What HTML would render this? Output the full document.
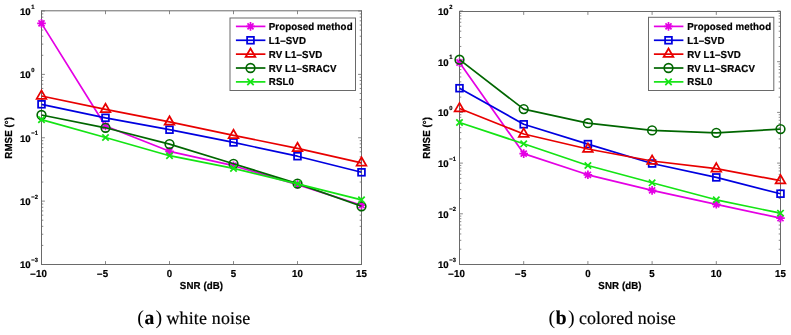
<!DOCTYPE html>
<html><head><meta charset="utf-8"><style>
html,body{margin:0;padding:0;background:#fff;}
body{width:791px;height:335px;overflow:hidden;}
svg{display:block;text-rendering:geometricPrecision;will-change:transform;}
.s{font-family:"Liberation Sans",sans-serif;font-weight:bold;font-size:9.7px;letter-spacing:0.1px;fill:#000;stroke:#000;stroke-width:0.22px;}
.sup{font-family:"Liberation Sans",sans-serif;font-weight:bold;font-size:5.8px;fill:#000;stroke:#000;stroke-width:0.2px;}
.ten{font-size:9.6px;letter-spacing:0;}
.cap{font-family:"Liberation Serif",serif;font-size:17.9px;fill:#000;stroke:#000;stroke-width:0.2px;}
</style></head><body>
<svg width="791" height="335" viewBox="0 0 791 335">
<path d="M41.50 264.50V261.10M41.50 10.80V14.20M105.50 264.50V261.10M105.50 10.80V14.20M169.50 264.50V261.10M169.50 10.80V14.20M233.50 264.50V261.10M233.50 10.80V14.20M297.50 264.50V261.10M297.50 10.80V14.20M361.50 264.50V261.10M361.50 10.80V14.20M41.50 264.50H44.90M361.50 264.50H358.10M41.50 245.42H43.30M361.50 245.42H359.70M41.50 234.26H43.30M361.50 234.26H359.70M41.50 226.34H43.30M361.50 226.34H359.70M41.50 220.20H43.30M361.50 220.20H359.70M41.50 215.18H43.30M361.50 215.18H359.70M41.50 210.94H43.30M361.50 210.94H359.70M41.50 207.27H43.30M361.50 207.27H359.70M41.50 204.02H43.30M361.50 204.02H359.70M41.50 201.12H44.90M361.50 201.12H358.10M41.50 182.05H43.30M361.50 182.05H359.70M41.50 170.89H43.30M361.50 170.89H359.70M41.50 162.97H43.30M361.50 162.97H359.70M41.50 156.83H43.30M361.50 156.83H359.70M41.50 151.81H43.30M361.50 151.81H359.70M41.50 147.57H43.30M361.50 147.57H359.70M41.50 143.89H43.30M361.50 143.89H359.70M41.50 140.65H43.30M361.50 140.65H359.70M41.50 137.75H44.90M361.50 137.75H358.10M41.50 118.67H43.30M361.50 118.67H359.70M41.50 107.51H43.30M361.50 107.51H359.70M41.50 99.59H43.30M361.50 99.59H359.70M41.50 93.45H43.30M361.50 93.45H359.70M41.50 88.43H43.30M361.50 88.43H359.70M41.50 84.19H43.30M361.50 84.19H359.70M41.50 80.52H43.30M361.50 80.52H359.70M41.50 77.27H43.30M361.50 77.27H359.70M41.50 74.38H44.90M361.50 74.38H358.10M41.50 55.30H43.30M361.50 55.30H359.70M41.50 44.14H43.30M361.50 44.14H359.70M41.50 36.22H43.30M361.50 36.22H359.70M41.50 30.08H43.30M361.50 30.08H359.70M41.50 25.06H43.30M361.50 25.06H359.70M41.50 20.82H43.30M361.50 20.82H359.70M41.50 17.14H43.30M361.50 17.14H359.70M41.50 13.90H43.30M361.50 13.90H359.70M41.50 11.00H44.90M361.50 11.00H358.10" stroke="#6a6a6a" stroke-width="0.8" fill="none"/>
<path d="M41.50 10.80V264.50M361.50 10.80V264.50M41.00 10.80H362.00M41.00 264.50H362.00" stroke="#6a6a6a" stroke-width="1" fill="none"/>
<text transform="translate(41.50,276.60) scale(1,1.05)" class="s" text-anchor="middle">10</text>
<text transform="translate(35.71,276.60) scale(1,1.05)" class="s" text-anchor="end">&#8211;</text>
<text transform="translate(105.50,276.60) scale(1,1.05)" class="s" text-anchor="middle">5</text>
<text transform="translate(102.40,276.60) scale(1,1.05)" class="s" text-anchor="end">&#8211;</text>
<text transform="translate(169.50,276.60) scale(1,1.05)" class="s" text-anchor="middle">0</text>
<text transform="translate(233.50,276.60) scale(1,1.05)" class="s" text-anchor="middle">5</text>
<text transform="translate(297.50,276.60) scale(1,1.05)" class="s" text-anchor="middle">10</text>
<text transform="translate(361.50,276.60) scale(1,1.05)" class="s" text-anchor="middle">15</text>
<text x="30.60" y="268.40" class="s ten" text-anchor="end">10</text>
<text transform="translate(31.30,262.00) scale(1,1.05)" class="sup">&#8722;3</text>
<text x="30.60" y="205.03" class="s ten" text-anchor="end">10</text>
<text transform="translate(31.30,198.62) scale(1,1.05)" class="sup">&#8722;2</text>
<text x="30.60" y="141.65" class="s ten" text-anchor="end">10</text>
<text transform="translate(31.30,135.25) scale(1,1.05)" class="sup">&#8722;1</text>
<text x="30.60" y="78.28" class="s ten" text-anchor="end">10</text>
<text transform="translate(31.30,71.88) scale(1,1.05)" class="sup">0</text>
<text x="30.60" y="14.90" class="s ten" text-anchor="end">10</text>
<text transform="translate(31.30,8.50) scale(1,1.05)" class="sup">1</text>
<text transform="translate(201.50,288.80) scale(1,1.05)" class="s" text-anchor="middle">SNR (dB)</text>
<text transform="translate(12.00,137.75) rotate(-90) scale(1,1.05)" text-anchor="middle" class="s">RMSE (°)</text>
<polyline points="41.50,23.40 105.50,126.00 169.50,151.30 233.50,165.70 297.50,184.60 361.50,205.20" stroke="#e400e4" stroke-width="1.7" fill="none" stroke-linejoin="round"/>
<path d="M37.20 23.40L45.80 23.40M38.46 20.36L44.54 26.44M41.50 19.10L41.50 27.70M44.54 20.36L38.46 26.44" stroke="#e400e4" stroke-width="1.7" fill="none"/>
<path d="M101.20 126.00L109.80 126.00M102.46 122.96L108.54 129.04M105.50 121.70L105.50 130.30M108.54 122.96L102.46 129.04" stroke="#e400e4" stroke-width="1.7" fill="none"/>
<path d="M165.20 151.30L173.80 151.30M166.46 148.26L172.54 154.34M169.50 147.00L169.50 155.60M172.54 148.26L166.46 154.34" stroke="#e400e4" stroke-width="1.7" fill="none"/>
<path d="M229.20 165.70L237.80 165.70M230.46 162.66L236.54 168.74M233.50 161.40L233.50 170.00M236.54 162.66L230.46 168.74" stroke="#e400e4" stroke-width="1.7" fill="none"/>
<path d="M293.20 184.60L301.80 184.60M294.46 181.56L300.54 187.64M297.50 180.30L297.50 188.90M300.54 181.56L294.46 187.64" stroke="#e400e4" stroke-width="1.7" fill="none"/>
<path d="M357.20 205.20L365.80 205.20M358.46 202.16L364.54 208.24M361.50 200.90L361.50 209.50M364.54 202.16L358.46 208.24" stroke="#e400e4" stroke-width="1.7" fill="none"/>
<polyline points="41.50,104.30 105.50,117.80 169.50,129.70 233.50,142.40 297.50,156.20 361.50,172.30" stroke="#0000e0" stroke-width="1.7" fill="none" stroke-linejoin="round"/>
<rect x="38.10" y="100.90" width="6.80" height="6.80" stroke="#0000e0" stroke-width="1.75" fill="none"/>
<rect x="102.10" y="114.40" width="6.80" height="6.80" stroke="#0000e0" stroke-width="1.75" fill="none"/>
<rect x="166.10" y="126.30" width="6.80" height="6.80" stroke="#0000e0" stroke-width="1.75" fill="none"/>
<rect x="230.10" y="139.00" width="6.80" height="6.80" stroke="#0000e0" stroke-width="1.75" fill="none"/>
<rect x="294.10" y="152.80" width="6.80" height="6.80" stroke="#0000e0" stroke-width="1.75" fill="none"/>
<rect x="358.10" y="168.90" width="6.80" height="6.80" stroke="#0000e0" stroke-width="1.75" fill="none"/>
<polyline points="41.50,96.00 105.50,109.30 169.50,121.90 233.50,135.30 297.50,148.40 361.50,162.80" stroke="#e80000" stroke-width="1.7" fill="none" stroke-linejoin="round"/>
<polygon points="41.50,90.40 46.35,98.80 36.65,98.80" stroke="#e80000" stroke-width="1.75" fill="none" stroke-linejoin="miter"/>
<polygon points="105.50,103.70 110.35,112.10 100.65,112.10" stroke="#e80000" stroke-width="1.75" fill="none" stroke-linejoin="miter"/>
<polygon points="169.50,116.30 174.35,124.70 164.65,124.70" stroke="#e80000" stroke-width="1.75" fill="none" stroke-linejoin="miter"/>
<polygon points="233.50,129.70 238.35,138.10 228.65,138.10" stroke="#e80000" stroke-width="1.75" fill="none" stroke-linejoin="miter"/>
<polygon points="297.50,142.80 302.35,151.20 292.65,151.20" stroke="#e80000" stroke-width="1.75" fill="none" stroke-linejoin="miter"/>
<polygon points="361.50,157.20 366.35,165.60 356.65,165.60" stroke="#e80000" stroke-width="1.75" fill="none" stroke-linejoin="miter"/>
<polyline points="41.50,115.00 105.50,127.80 169.50,144.10 233.50,163.80 297.50,183.60 361.50,206.30" stroke="#006600" stroke-width="1.7" fill="none" stroke-linejoin="round"/>
<circle cx="41.50" cy="115.00" r="4.35" stroke="#006600" stroke-width="1.6" fill="none"/>
<circle cx="105.50" cy="127.80" r="4.35" stroke="#006600" stroke-width="1.6" fill="none"/>
<circle cx="169.50" cy="144.10" r="4.35" stroke="#006600" stroke-width="1.6" fill="none"/>
<circle cx="233.50" cy="163.80" r="4.35" stroke="#006600" stroke-width="1.6" fill="none"/>
<circle cx="297.50" cy="183.60" r="4.35" stroke="#006600" stroke-width="1.6" fill="none"/>
<circle cx="361.50" cy="206.30" r="4.35" stroke="#006600" stroke-width="1.6" fill="none"/>
<polyline points="41.50,119.60 105.50,137.50 169.50,155.70 233.50,168.40 297.50,183.80 361.50,199.90" stroke="#14e414" stroke-width="1.7" fill="none" stroke-linejoin="round"/>
<path d="M38.30 116.40L44.70 122.80M38.30 122.80L44.70 116.40" stroke="#14e414" stroke-width="1.75" fill="none"/>
<path d="M102.30 134.30L108.70 140.70M102.30 140.70L108.70 134.30" stroke="#14e414" stroke-width="1.75" fill="none"/>
<path d="M166.30 152.50L172.70 158.90M166.30 158.90L172.70 152.50" stroke="#14e414" stroke-width="1.75" fill="none"/>
<path d="M230.30 165.20L236.70 171.60M230.30 171.60L236.70 165.20" stroke="#14e414" stroke-width="1.75" fill="none"/>
<path d="M294.30 180.60L300.70 187.00M294.30 187.00L300.70 180.60" stroke="#14e414" stroke-width="1.75" fill="none"/>
<path d="M358.30 196.70L364.70 203.10M358.30 203.10L364.70 196.70" stroke="#14e414" stroke-width="1.75" fill="none"/>
<rect x="230.00" y="18.00" width="125.50" height="72.50" fill="#fff" stroke="#6a6a6a" stroke-width="1"/>
<path d="M235.90 26.40H265.40" stroke="#e400e4" stroke-width="1.7"/>
<path d="M246.20 26.40L254.80 26.40M247.46 23.36L253.54 29.44M250.50 22.10L250.50 30.70M253.54 23.36L247.46 29.44" stroke="#e400e4" stroke-width="1.7" fill="none"/>
<text transform="translate(268.80,29.90) scale(1,1.05)" class="s">Proposed method</text>
<path d="M235.90 40.27H265.40" stroke="#0000e0" stroke-width="1.7"/>
<rect x="247.10" y="36.87" width="6.80" height="6.80" stroke="#0000e0" stroke-width="1.75" fill="none"/>
<text transform="translate(268.80,43.77) scale(1,1.05)" class="s">L1&#8211;SVD</text>
<path d="M235.90 54.14H265.40" stroke="#e80000" stroke-width="1.7"/>
<polygon points="250.50,48.54 255.35,56.94 245.65,56.94" stroke="#e80000" stroke-width="1.75" fill="none" stroke-linejoin="miter"/>
<text transform="translate(268.80,57.64) scale(1,1.05)" class="s">RV L1&#8211;SVD</text>
<path d="M235.90 68.01H265.40" stroke="#006600" stroke-width="1.7"/>
<circle cx="250.50" cy="68.01" r="4.35" stroke="#006600" stroke-width="1.6" fill="none"/>
<text transform="translate(268.80,71.51) scale(1,1.05)" class="s">RV L1&#8211;SRACV</text>
<path d="M235.90 81.88H265.40" stroke="#14e414" stroke-width="1.7"/>
<path d="M247.30 78.68L253.70 85.08M247.30 85.08L253.70 78.68" stroke="#14e414" stroke-width="1.75" fill="none"/>
<text transform="translate(268.80,85.38) scale(1,1.05)" class="s">RSL0</text>
<path d="M459.50 264.50V261.10M459.50 11.50V14.90M523.70 264.50V261.10M523.70 11.50V14.90M587.90 264.50V261.10M587.90 11.50V14.90M652.10 264.50V261.10M652.10 11.50V14.90M716.30 264.50V261.10M716.30 11.50V14.90M780.50 264.50V261.10M780.50 11.50V14.90M459.50 264.50H462.90M780.50 264.50H777.10M459.50 249.24H461.30M780.50 249.24H778.70M459.50 240.31H461.30M780.50 240.31H778.70M459.50 233.98H461.30M780.50 233.98H778.70M459.50 229.06H461.30M780.50 229.06H778.70M459.50 225.05H461.30M780.50 225.05H778.70M459.50 221.65H461.30M780.50 221.65H778.70M459.50 218.71H461.30M780.50 218.71H778.70M459.50 216.12H461.30M780.50 216.12H778.70M459.50 213.80H462.90M780.50 213.80H777.10M459.50 198.54H461.30M780.50 198.54H778.70M459.50 189.61H461.30M780.50 189.61H778.70M459.50 183.28H461.30M780.50 183.28H778.70M459.50 178.36H461.30M780.50 178.36H778.70M459.50 174.35H461.30M780.50 174.35H778.70M459.50 170.95H461.30M780.50 170.95H778.70M459.50 168.01H461.30M780.50 168.01H778.70M459.50 165.42H461.30M780.50 165.42H778.70M459.50 163.10H462.90M780.50 163.10H777.10M459.50 147.84H461.30M780.50 147.84H778.70M459.50 138.91H461.30M780.50 138.91H778.70M459.50 132.58H461.30M780.50 132.58H778.70M459.50 127.66H461.30M780.50 127.66H778.70M459.50 123.65H461.30M780.50 123.65H778.70M459.50 120.25H461.30M780.50 120.25H778.70M459.50 117.31H461.30M780.50 117.31H778.70M459.50 114.72H461.30M780.50 114.72H778.70M459.50 112.40H462.90M780.50 112.40H777.10M459.50 97.14H461.30M780.50 97.14H778.70M459.50 88.21H461.30M780.50 88.21H778.70M459.50 81.88H461.30M780.50 81.88H778.70M459.50 76.96H461.30M780.50 76.96H778.70M459.50 72.95H461.30M780.50 72.95H778.70M459.50 69.55H461.30M780.50 69.55H778.70M459.50 66.61H461.30M780.50 66.61H778.70M459.50 64.02H461.30M780.50 64.02H778.70M459.50 61.70H462.90M780.50 61.70H777.10M459.50 46.44H461.30M780.50 46.44H778.70M459.50 37.51H461.30M780.50 37.51H778.70M459.50 31.18H461.30M780.50 31.18H778.70M459.50 26.26H461.30M780.50 26.26H778.70M459.50 22.25H461.30M780.50 22.25H778.70M459.50 18.85H461.30M780.50 18.85H778.70M459.50 15.91H461.30M780.50 15.91H778.70M459.50 13.32H461.30M780.50 13.32H778.70M459.50 11.00H462.90M780.50 11.00H777.10" stroke="#6a6a6a" stroke-width="0.8" fill="none"/>
<path d="M459.50 11.50V264.50M780.50 11.50V264.50M459.00 11.50H781.00M459.00 264.50H781.00" stroke="#6a6a6a" stroke-width="1" fill="none"/>
<text transform="translate(459.50,276.60) scale(1,1.05)" class="s" text-anchor="middle">10</text>
<text transform="translate(453.71,276.60) scale(1,1.05)" class="s" text-anchor="end">&#8211;</text>
<text transform="translate(523.70,276.60) scale(1,1.05)" class="s" text-anchor="middle">5</text>
<text transform="translate(520.60,276.60) scale(1,1.05)" class="s" text-anchor="end">&#8211;</text>
<text transform="translate(587.90,276.60) scale(1,1.05)" class="s" text-anchor="middle">0</text>
<text transform="translate(652.10,276.60) scale(1,1.05)" class="s" text-anchor="middle">5</text>
<text transform="translate(716.30,276.60) scale(1,1.05)" class="s" text-anchor="middle">10</text>
<text transform="translate(780.50,276.60) scale(1,1.05)" class="s" text-anchor="middle">15</text>
<text x="448.60" y="268.40" class="s ten" text-anchor="end">10</text>
<text transform="translate(449.30,262.00) scale(1,1.05)" class="sup">&#8722;3</text>
<text x="448.60" y="217.70" class="s ten" text-anchor="end">10</text>
<text transform="translate(449.30,211.30) scale(1,1.05)" class="sup">&#8722;2</text>
<text x="448.60" y="167.00" class="s ten" text-anchor="end">10</text>
<text transform="translate(449.30,160.60) scale(1,1.05)" class="sup">&#8722;1</text>
<text x="448.60" y="116.30" class="s ten" text-anchor="end">10</text>
<text transform="translate(449.30,109.90) scale(1,1.05)" class="sup">0</text>
<text x="448.60" y="65.60" class="s ten" text-anchor="end">10</text>
<text transform="translate(449.30,59.20) scale(1,1.05)" class="sup">1</text>
<text x="448.60" y="14.90" class="s ten" text-anchor="end">10</text>
<text transform="translate(449.30,8.50) scale(1,1.05)" class="sup">2</text>
<text transform="translate(620.00,288.80) scale(1,1.05)" class="s" text-anchor="middle">SNR (dB)</text>
<text transform="translate(430.00,137.75) rotate(-90) scale(1,1.05)" text-anchor="middle" class="s">RMSE (°)</text>
<polyline points="459.50,62.50 523.70,153.60 587.90,174.80 652.10,190.40 716.30,204.30 780.50,218.20" stroke="#e400e4" stroke-width="1.7" fill="none" stroke-linejoin="round"/>
<path d="M455.20 62.50L463.80 62.50M456.46 59.46L462.54 65.54M459.50 58.20L459.50 66.80M462.54 59.46L456.46 65.54" stroke="#e400e4" stroke-width="1.7" fill="none"/>
<path d="M519.40 153.60L528.00 153.60M520.66 150.56L526.74 156.64M523.70 149.30L523.70 157.90M526.74 150.56L520.66 156.64" stroke="#e400e4" stroke-width="1.7" fill="none"/>
<path d="M583.60 174.80L592.20 174.80M584.86 171.76L590.94 177.84M587.90 170.50L587.90 179.10M590.94 171.76L584.86 177.84" stroke="#e400e4" stroke-width="1.7" fill="none"/>
<path d="M647.80 190.40L656.40 190.40M649.06 187.36L655.14 193.44M652.10 186.10L652.10 194.70M655.14 187.36L649.06 193.44" stroke="#e400e4" stroke-width="1.7" fill="none"/>
<path d="M712.00 204.30L720.60 204.30M713.26 201.26L719.34 207.34M716.30 200.00L716.30 208.60M719.34 201.26L713.26 207.34" stroke="#e400e4" stroke-width="1.7" fill="none"/>
<path d="M776.20 218.20L784.80 218.20M777.46 215.16L783.54 221.24M780.50 213.90L780.50 222.50M783.54 215.16L777.46 221.24" stroke="#e400e4" stroke-width="1.7" fill="none"/>
<polyline points="459.50,88.20 523.70,124.30 587.90,144.10 652.10,163.50 716.30,177.40 780.50,193.70" stroke="#0000e0" stroke-width="1.7" fill="none" stroke-linejoin="round"/>
<rect x="456.10" y="84.80" width="6.80" height="6.80" stroke="#0000e0" stroke-width="1.75" fill="none"/>
<rect x="520.30" y="120.90" width="6.80" height="6.80" stroke="#0000e0" stroke-width="1.75" fill="none"/>
<rect x="584.50" y="140.70" width="6.80" height="6.80" stroke="#0000e0" stroke-width="1.75" fill="none"/>
<rect x="648.70" y="160.10" width="6.80" height="6.80" stroke="#0000e0" stroke-width="1.75" fill="none"/>
<rect x="712.90" y="174.00" width="6.80" height="6.80" stroke="#0000e0" stroke-width="1.75" fill="none"/>
<rect x="777.10" y="190.30" width="6.80" height="6.80" stroke="#0000e0" stroke-width="1.75" fill="none"/>
<polyline points="459.50,108.50 523.70,134.00 587.90,149.00 652.10,161.00 716.30,168.70 780.50,180.60" stroke="#e80000" stroke-width="1.7" fill="none" stroke-linejoin="round"/>
<polygon points="459.50,102.90 464.35,111.30 454.65,111.30" stroke="#e80000" stroke-width="1.75" fill="none" stroke-linejoin="miter"/>
<polygon points="523.70,128.40 528.55,136.80 518.85,136.80" stroke="#e80000" stroke-width="1.75" fill="none" stroke-linejoin="miter"/>
<polygon points="587.90,143.40 592.75,151.80 583.05,151.80" stroke="#e80000" stroke-width="1.75" fill="none" stroke-linejoin="miter"/>
<polygon points="652.10,155.40 656.95,163.80 647.25,163.80" stroke="#e80000" stroke-width="1.75" fill="none" stroke-linejoin="miter"/>
<polygon points="716.30,163.10 721.15,171.50 711.45,171.50" stroke="#e80000" stroke-width="1.75" fill="none" stroke-linejoin="miter"/>
<polygon points="780.50,175.00 785.35,183.40 775.65,183.40" stroke="#e80000" stroke-width="1.75" fill="none" stroke-linejoin="miter"/>
<polyline points="459.50,59.70 523.70,109.10 587.90,123.20 652.10,130.40 716.30,132.80 780.50,129.10" stroke="#006600" stroke-width="1.7" fill="none" stroke-linejoin="round"/>
<circle cx="459.50" cy="59.70" r="4.35" stroke="#006600" stroke-width="1.6" fill="none"/>
<circle cx="523.70" cy="109.10" r="4.35" stroke="#006600" stroke-width="1.6" fill="none"/>
<circle cx="587.90" cy="123.20" r="4.35" stroke="#006600" stroke-width="1.6" fill="none"/>
<circle cx="652.10" cy="130.40" r="4.35" stroke="#006600" stroke-width="1.6" fill="none"/>
<circle cx="716.30" cy="132.80" r="4.35" stroke="#006600" stroke-width="1.6" fill="none"/>
<circle cx="780.50" cy="129.10" r="4.35" stroke="#006600" stroke-width="1.6" fill="none"/>
<polyline points="459.50,122.50 523.70,143.80 587.90,165.50 652.10,182.80 716.30,199.80 780.50,213.20" stroke="#14e414" stroke-width="1.7" fill="none" stroke-linejoin="round"/>
<path d="M456.30 119.30L462.70 125.70M456.30 125.70L462.70 119.30" stroke="#14e414" stroke-width="1.75" fill="none"/>
<path d="M520.50 140.60L526.90 147.00M520.50 147.00L526.90 140.60" stroke="#14e414" stroke-width="1.75" fill="none"/>
<path d="M584.70 162.30L591.10 168.70M584.70 168.70L591.10 162.30" stroke="#14e414" stroke-width="1.75" fill="none"/>
<path d="M648.90 179.60L655.30 186.00M648.90 186.00L655.30 179.60" stroke="#14e414" stroke-width="1.75" fill="none"/>
<path d="M713.10 196.60L719.50 203.00M713.10 203.00L719.50 196.60" stroke="#14e414" stroke-width="1.75" fill="none"/>
<path d="M777.30 210.00L783.70 216.40M777.30 216.40L783.70 210.00" stroke="#14e414" stroke-width="1.75" fill="none"/>
<rect x="648.50" y="17.30" width="125.30" height="73.20" fill="#fff" stroke="#6a6a6a" stroke-width="1"/>
<path d="M653.90 26.40H683.40" stroke="#e400e4" stroke-width="1.7"/>
<path d="M664.20 26.40L672.80 26.40M665.46 23.36L671.54 29.44M668.50 22.10L668.50 30.70M671.54 23.36L665.46 29.44" stroke="#e400e4" stroke-width="1.7" fill="none"/>
<text transform="translate(687.30,29.90) scale(1,1.05)" class="s">Proposed method</text>
<path d="M653.90 40.27H683.40" stroke="#0000e0" stroke-width="1.7"/>
<rect x="665.10" y="36.87" width="6.80" height="6.80" stroke="#0000e0" stroke-width="1.75" fill="none"/>
<text transform="translate(687.30,43.77) scale(1,1.05)" class="s">L1&#8211;SVD</text>
<path d="M653.90 54.14H683.40" stroke="#e80000" stroke-width="1.7"/>
<polygon points="668.50,48.54 673.35,56.94 663.65,56.94" stroke="#e80000" stroke-width="1.75" fill="none" stroke-linejoin="miter"/>
<text transform="translate(687.30,57.64) scale(1,1.05)" class="s">RV L1&#8211;SVD</text>
<path d="M653.90 68.01H683.40" stroke="#006600" stroke-width="1.7"/>
<circle cx="668.50" cy="68.01" r="4.35" stroke="#006600" stroke-width="1.6" fill="none"/>
<text transform="translate(687.30,71.51) scale(1,1.05)" class="s">RV L1&#8211;SRACV</text>
<path d="M653.90 81.88H683.40" stroke="#14e414" stroke-width="1.7"/>
<path d="M665.30 78.68L671.70 85.08M665.30 85.08L671.70 78.68" stroke="#14e414" stroke-width="1.75" fill="none"/>
<text transform="translate(687.30,85.38) scale(1,1.05)" class="s">RSL0</text>
<text x="137.3" y="323.5" class="cap" style="font-size:20px;stroke-width:0">(</text>
<text x="144.6" y="323.5" class="cap" style="font-size:19.5px" font-weight="bold">a</text>
<text x="155.4" y="323.5" class="cap" style="font-size:20px;stroke-width:0">)</text>
<text x="166.5" y="323.5" class="cap" textLength="83.8" lengthAdjust="spacing">white noise</text>
<text x="548.6" y="323.5" class="cap" style="font-size:20px;stroke-width:0">(</text>
<text x="555.7" y="323.5" class="cap" style="font-size:19.5px" font-weight="bold">b</text>
<text x="567.9" y="323.5" class="cap" style="font-size:20px;stroke-width:0">)</text>
<text x="579.0" y="323.5" class="cap" textLength="96.8" lengthAdjust="spacing">colored noise</text>
</svg>
</body></html>
